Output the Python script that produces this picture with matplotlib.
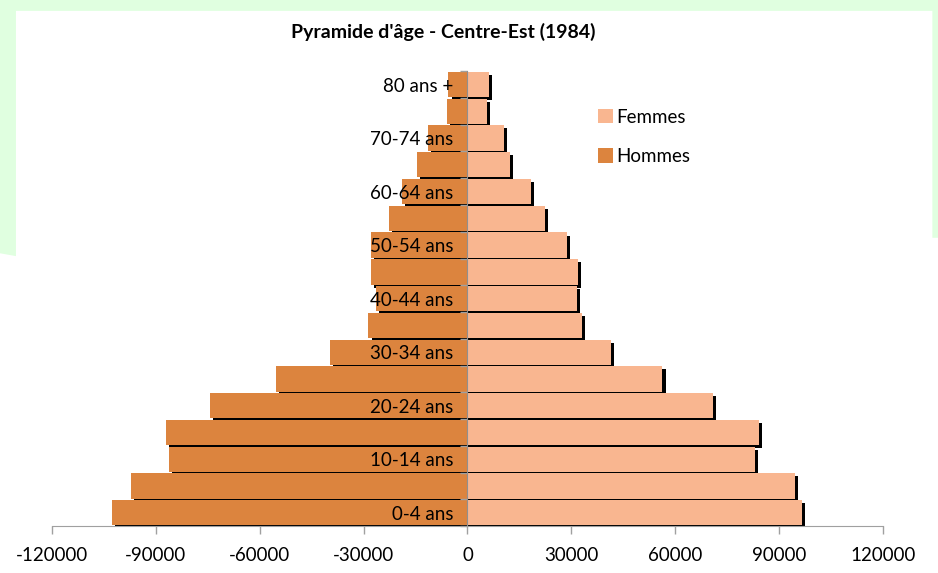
import matplotlib.pyplot as plt
import matplotlib.patheffects as pe
from matplotlib.patches import Polygon, Patch
import numpy as np

plt.rcParams['font.family'] = ['Lato', 'DejaVu Sans']

# age groups, youngest first
categories = ['0-4 ans', '5-9 ans', '10-14 ans', '15-19 ans', '20-24 ans', '25-29 ans',
              '30-34 ans', '35-39 ans', '40-44 ans', '45-49 ans', '50-54 ans', '55-59 ans',
              '60-64 ans', '65-69 ans', '70-74 ans', '75-79 ans', '80 ans +']

# men are plotted as negative values (left side)
hommes = [-102700, -97100, -86100, -87200, -74500, -55400,
          -39800, -28600, -26500, -28000, -28000, -22800,
          -18800, -14700, -11300, -5800, -5500]
femmes = [96700, 94600, 83100, 84200, 70900, 56300,
          41400, 33000, 31500, 32000, 28600, 22300,
          18200, 12200, 10400, 5500, 6100]

xticks = [-120000, -90000, -60000, -30000, 0, 30000, 60000, 90000, 120000]

col_h = '#DC843E'
col_f = '#F9B690'
green = '#E0FFE0'

fig = plt.figure(figsize=(9.38, 5.73), dpi=100)

# light green frame behind the chart area
fig.patches.append(Polygon([(0, 1), (1, 1), (1, 0.585), (0.994, 0.585), (0.994, 0.981),
                            (0.017, 0.981), (0.017, 0.553), (0, 0.558)],
                           closed=True, transform=fig.transFigure, facecolor=green,
                           edgecolor='none', zorder=0))

ax = fig.add_axes([0.0554, 0.0818, 0.886, 0.794])
ax.patch.set_alpha(0)

y = np.arange(len(categories))
shadow = [pe.SimplePatchShadow(offset=(2.2, -2.2), shadow_rgbFace='black', alpha=1), pe.Normal()]

# draw from the top down so each lower bar covers the shadow of the one above
ax.barh(y[::-1], hommes[::-1], height=0.945, color=col_h, path_effects=shadow)
ax.barh(y[::-1], femmes[::-1], height=0.945, color=col_f, path_effects=shadow)

ax.set_xlim(-120000, 120000)
ax.set_ylim(-0.5, len(categories) - 0.5)
ax.set_xticks(xticks)
ax.set_xticklabels([str(v) for v in xticks])

# ticks at category boundaries, labels on every other category
ax.set_yticks(np.arange(-0.5, len(categories), 1))
ax.set_yticklabels([])
ax.set_yticks(y[::2], minor=True)
ax.set_yticklabels([categories[i] for i in y[::2]], minor=True)
ax.tick_params(axis='y', which='major', length=5, width=1, color='#A0A0A0', direction='out')
ax.tick_params(axis='y', which='minor', length=0, pad=10, labelsize=13.5)
ax.tick_params(axis='x', length=6, width=1, color='#A0A0A0', labelsize=13.5, pad=9)

ax.spines['left'].set_position(('data', 0))
ax.spines['left'].set_color('#909090')
ax.spines['bottom'].set_color('#A0A0A0')
ax.spines['top'].set_visible(False)
ax.spines['right'].set_visible(False)

fig.text(0.473, 0.944, "Pyramide d'âge - Centre-Est (1984)", ha='center', va='center',
         fontsize=14, fontweight='bold')

handles = [Patch(facecolor=col_f), Patch(facecolor=col_h)]
ax.legend(handles, ['Femmes', 'Hommes'], loc='upper left', bbox_to_anchor=(0.62, 0.84),
          bbox_transform=fig.transFigure, frameon=False, fontsize=13.5,
          handlelength=0.8, handleheight=0.8, handletextpad=0.15, labelspacing=1.2)

fig.savefig('out.png', dpi=100)
